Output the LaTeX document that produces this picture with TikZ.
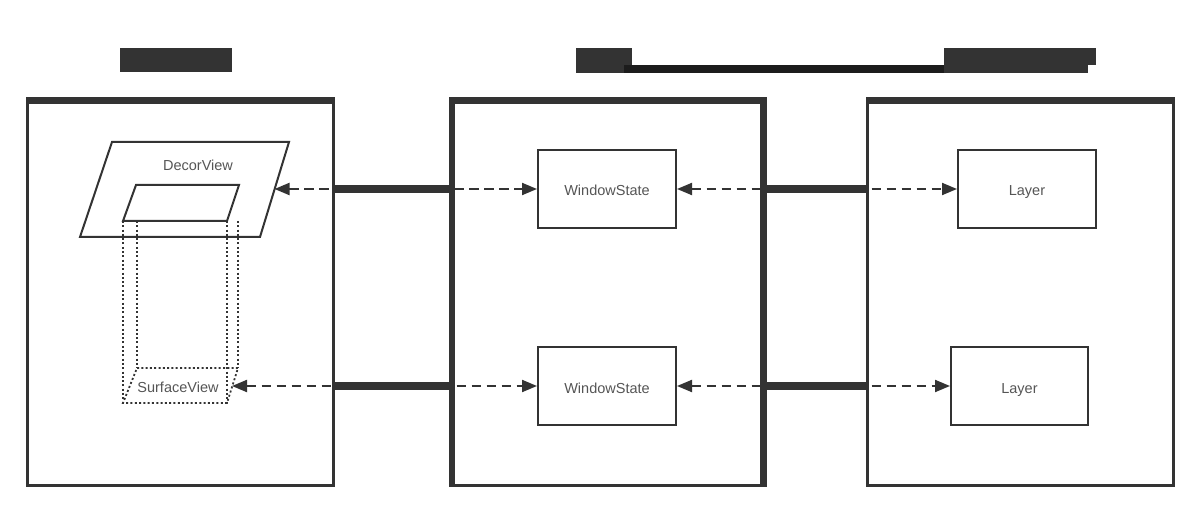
\documentclass[tikz,border=0pt]{standalone}
\usepackage{fontspec}
\setmainfont{Liberation Sans}
\usetikzlibrary{arrows.meta}
\definecolor{ink}{HTML}{333333}
\definecolor{bar}{HTML}{1C1C1C}
\definecolor{txt}{HTML}{555555}
\begin{document}
\begin{tikzpicture}[x=1pt,y=-1pt,
  lbl/.style={font=\fontsize{14.5}{16}\selectfont, text=txt},
  entity/.style={draw=ink, line width=2pt, minimum width=138pt, minimum height=78pt, inner sep=0pt, lbl,
    text height=14pt, text depth=0pt},
  panel/.style={draw=ink, line width=3pt, minimum height=385pt, inner sep=0pt},
  link/.style={draw=ink, line width=8pt},
  dashlink/.style={draw=ink, line width=2pt, dash pattern=on 9.5pt off 5.5pt,
    {Triangle[length=15pt,width=12pt]}-{Triangle[length=15pt,width=12pt]}},
  face/.style={draw=ink, line width=2pt, line join=miter},
  ghost/.style={draw=ink, line width=1.8pt, dash pattern=on 2pt off 2.3pt},
  redact/.style={fill=ink}
]
\useasboundingbox (0,0) rectangle (1200,513);

% heading blocks
\fill[redact] (120,48) rectangle (232,72);
\fill[redact] (576,48) rectangle (632,73);
\fill[bar] (624,65) rectangle (952,73);
\fill[redact] (944,48) rectangle (1096,65);
\fill[redact] (944,65) rectangle (1088,73);

% three panels
\node[panel, minimum width=306pt] (pl) at (180,292.5) {};
\node[panel, minimum width=311pt] (pm) at (607.5,292.5) {};
\node[panel, minimum width=306pt] (pr) at (1020,292.5) {};
\fill[ink] (25.5,97) rectangle (334.5,104);
\fill[ink] (449,97) rectangle (766.5,104);
\fill[ink] (865.5,97) rectangle (1174.5,104);
\draw[ink, line width=6pt] (452,100) -- (452,486.5);
\draw[ink, line width=7pt] (763,100) -- (763,486.5);

% window states and layers
\node[entity] (ws1) at (607,189) {WindowState};
\node[entity] (ws2) at (607,386) {WindowState};
\node[entity] (ly1) at (1027,189) {Layer};
\node[entity, minimum width=137pt] (ly2) at (1019.5,386) {Layer};

% decor view with its surface box
\draw[face] (112,142) -- (289,142) -- (260,237) -- (80,237) -- cycle;
\node[lbl] (dv) at (198,165) {DecorView};
\draw[face] (136,185) -- (239,185) -- (227,221) -- (123,221) -- cycle;
\draw[ghost] (123,221) -- (123,403);
\draw[ghost] (137,221) -- (137,368);
\draw[ghost] (227,221) -- (227,403);
\draw[ghost] (238,221) -- (238,368);
\draw[ghost] (137,368) -- (238,368) -- (227,403) -- (123,403) -- cycle;
\node[lbl] (sv) at (178,387) {SurfaceView};
\coordinate (decorR) at (274.5,189);
\coordinate (surfR) at (232,386);

% dashed mappings
\draw[dashlink] (decorR) -- (ws1.west);
\draw[dashlink] (surfR) -- (ws2.west);
\draw[dashlink] (ws1.east) -- (ly1.west);
\draw[dashlink] (ws2.east) -- (ly2.west);

% solid links between panels
\draw[link] (pl.east |- ws1.west) -- (pm.west |- ws1.west);
\draw[link] (pl.east |- ws2.west) -- (pm.west |- ws2.west);
\draw[link] (pm.east |- ws1.east) -- (pr.west |- ws1.east);
\draw[link] (pm.east |- ws2.east) -- (pr.west |- ws2.east);
\end{tikzpicture}
\end{document}
